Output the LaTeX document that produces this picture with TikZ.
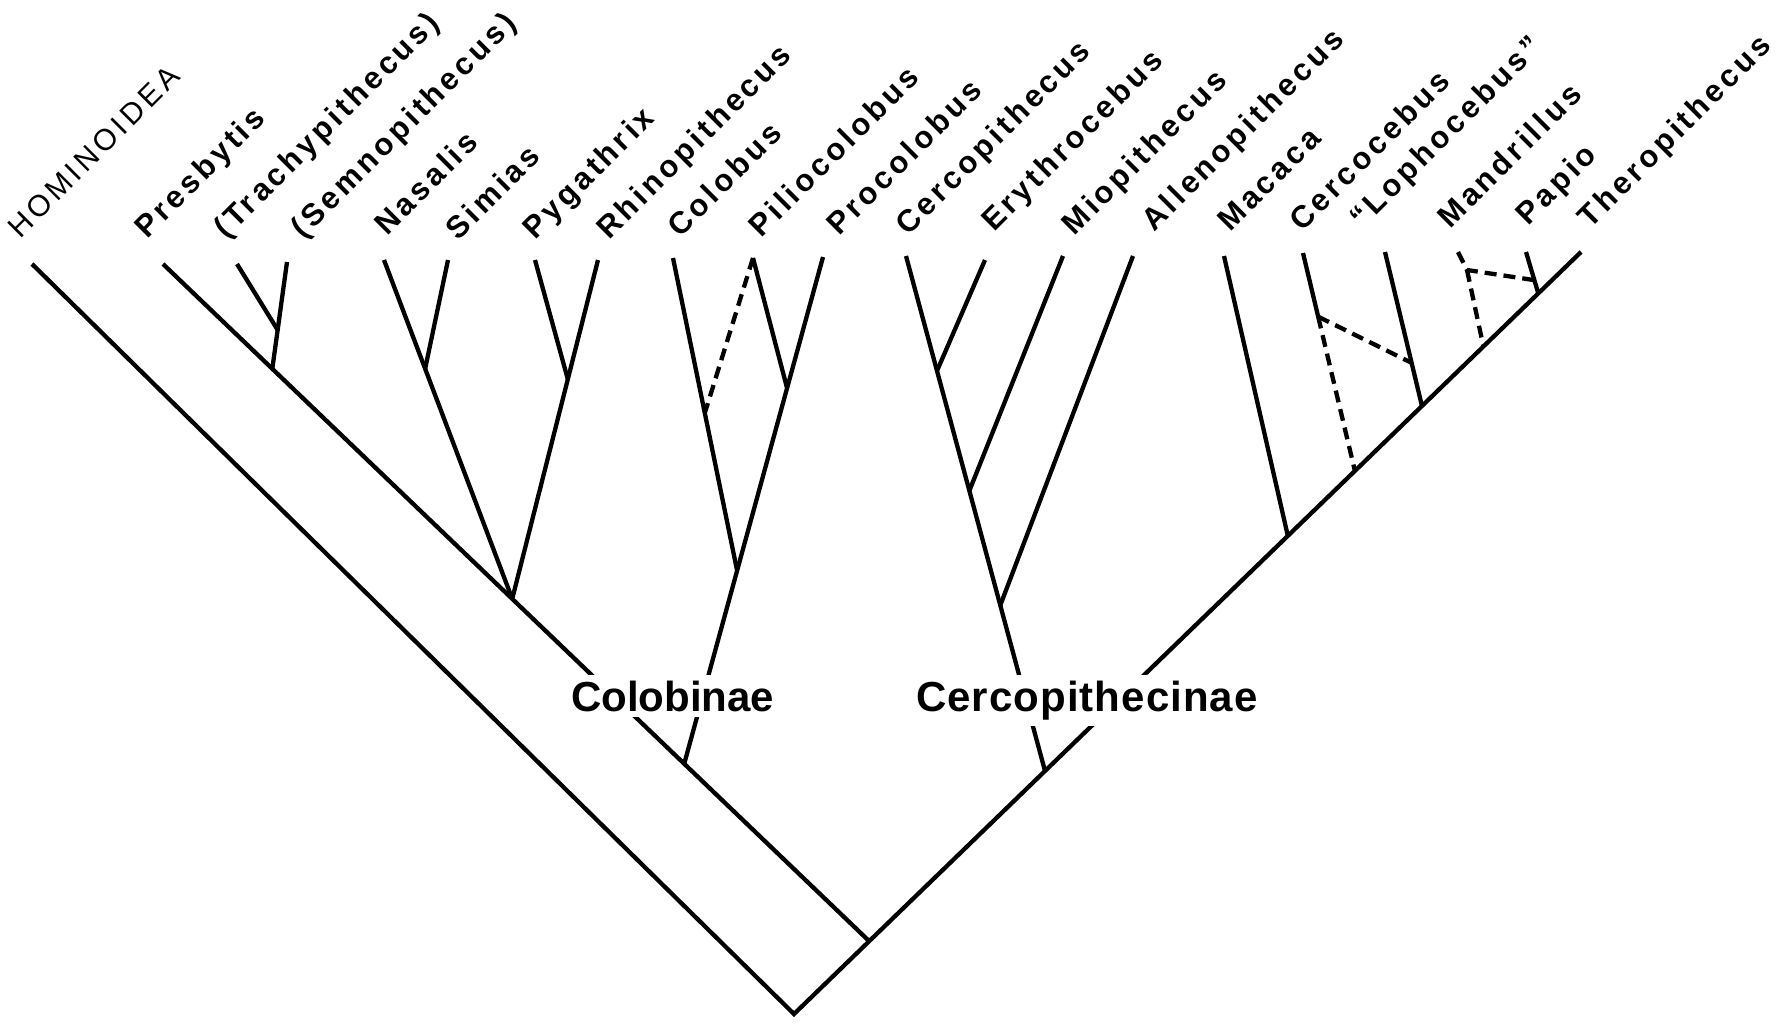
\documentclass[tikz,border=0pt]{standalone}
\usepackage{fontspec}
\setmainfont{Liberation Sans}
\newfontfamily\labfont[LetterSpace=12]{Liberation Sans}
\newfontfamily\homfont[LetterSpace=13]{Liberation Sans}
\newfontfamily\subfont[LetterSpace=2.5]{Liberation Sans}
\usetikzlibrary{calc}
\begin{document}
\begin{tikzpicture}[x=1pt,y=-1pt,
  br/.style={line width=4.3pt, line cap=butt, line join=miter},
  dsh/.style={br, dash pattern=on 12pt off 7pt},
  genus/.style={anchor=base west, rotate=45, inner sep=0pt, font=\labfont\bfseries\fontsize{31}{33}\selectfont},
  hom/.style={anchor=base west, rotate=45, inner sep=0pt, font=\homfont\fontsize{30}{32}\selectfont},
  sub/.style={anchor=base west, fill=white, inner xsep=4pt, inner ysep=6pt, font=\bfseries\fontsize{42}{44}\selectfont}]
\useasboundingbox (0,0) rectangle (1786,1024);
% main frame
\coordinate (V0) at (794,1014);
\coordinate (thT) at (1581,252);
\coordinate (homT) at (32,264);
\coordinate (preT) at (163,264);
\coordinate (n1) at ($(V0)!(871,943)!(thT)$);
% Colobinae
\coordinate (colN) at ($(n1)!(683,765)!(preT)$);
\coordinate (asN) at ($(n1)!(513,598)!(preT)$);
\coordinate (prsN) at ($(n1)!(273,368)!(preT)$);
\coordinate (semT) at (287,262);
\coordinate (trT) at (237,264);
\coordinate (trN) at ($(prsN)!(278,330)!(semT)$);
\coordinate (nasT) at (384,260);
\coordinate (simT) at (448,260);
\coordinate (simN) at ($(asN)!(427,368)!(nasT)$);
\coordinate (pygT) at (535,260);
\coordinate (rhiT) at (598,260);
\coordinate (pygN) at ($(asN)!(567,379)!(rhiT)$);
\coordinate (proT) at (823,257);
\coordinate (c3) at ($(colN)!(783,387)!(proT)$);
\coordinate (c2) at ($(colN)!(735,570)!(proT)$);
\coordinate (colT) at (673,258);
\coordinate (cdN) at ($(c2)!(705,413)!(colT)$);
\coordinate (pilT) at (753,258);
% Cercopithecinae
\coordinate (n3) at ($(V0)!(1046,772)!(thT)$);
\coordinate (cerT) at (906,256);
\coordinate (eryN) at ($(n3)!(940,370)!(cerT)$);
\coordinate (eryT) at (985,260);
\coordinate (mioN) at ($(n3)!(972,490)!(cerT)$);
\coordinate (mioT) at (1063,256);
\coordinate (allN) at ($(n3)!(1005,604)!(cerT)$);
\coordinate (allT) at (1133,256);
\coordinate (macN) at ($(V0)!(1287,535)!(thT)$);
\coordinate (macT) at (1224,256);
\coordinate (ccN) at ($(V0)!(1355,471)!(thT)$);
\coordinate (ccT) at (1303,253);
\coordinate (ccJ) at ($(ccT)!(1321,316)!(ccN)$);
\coordinate (lopT) at (1385,252);
\coordinate (lopN) at ($(V0)!(1422,406)!(thT)$);
\coordinate (lopJ) at ($(lopT)!0.72!(lopN)$);
\coordinate (manT) at (1458,252);
\coordinate (manK) at (1467,270);
\coordinate (manN) at ($(V0)!(1482,345)!(thT)$);
\coordinate (papT) at (1526,252);
\coordinate (papN) at ($(V0)!(1537,292)!(thT)$);
\coordinate (papJ) at ($(papT)!0.68!(papN)$);

% branches
\draw[br] (homT) -- (V0) -- (thT);
\draw[br] (n1) -- (preT);
\draw[br] (prsN) -- (semT);
\draw[br] (trN) -- (trT);
\draw[br] (asN) -- (nasT);
\draw[br] (simN) -- (simT);
\draw[br] (asN) -- (rhiT);
\draw[br] (pygN) -- (pygT);
\draw[br] (colN) -- (proT);
\draw[br] (c2) -- (colT);
\draw[br] (c3) -- (pilT);
\draw[dsh] (pilT) -- (cdN);
\draw[br] (n3) -- (cerT);
\draw[br] (eryN) -- (eryT);
\draw[br] (mioN) -- (mioT);
\draw[br] (allN) -- (allT);
\draw[br] (macN) -- (macT);
\draw[br] (ccJ) -- (ccT);
\draw[dsh] (ccJ) -- (ccN);
\draw[dsh] (ccJ) -- (lopJ);
\draw[br] (lopN) -- (lopT);
\draw[dsh] (manT) -- (manK) -- (papJ);
\draw[dsh] (manK) -- (manN);
\draw[br] (papN) -- (papT);

% labels
\node[hom] (lhom) at (20,240) {HOMINOIDEA};
\node[genus] (lpre) at (147,240) {Presbytis};
\node[genus] (ltra) at (226,240) {(Trachypithecus)};
\node[genus] (lsem) at (303,240) {(Semnopithecus)};
\node[genus] (lnas) at (387,237) {Nasalis};
\node[genus] (lsim) at (458,242) {Simias};
\node[genus] (lpyg) at (535,241) {Pygathrix};
\node[genus] (lrhi) at (609,241) {Rhinopithecus};
\node[genus] (lcol) at (680,239) {Colobus};
\node[genus] (lpil) at (761,239) {Piliocolobus};
\node[genus] (lpro) at (839,237) {Procolobus};
\node[genus] (lcer) at (908,237) {Cercopithecus};
\node[genus] (lery) at (994,233) {Erythrocebus};
\node[genus] (lmio) at (1074,237) {Miopithecus};
\node[genus] (lall) at (1154,233) {Allenopithecus};
\node[genus] (lmac) at (1230,233) {Macaca};
\node[genus] (lcc) at (1302,233) {Cercocebus};
\node[genus] (llop) at (1362,230) {“Lophocebus”};
\node[genus] (lman) at (1450,230) {Mandrillus};
\node[genus] (lpap) at (1528,227) {Papio};
\node[genus] (lthe) at (1590,230) {Theropithecus};

\node[sub] (scol) at (567,711) {Colobinae};
\node[sub] (scer) at (912,711) {\subfont\bfseries Cercopithecinae};
\end{tikzpicture}
\end{document}
